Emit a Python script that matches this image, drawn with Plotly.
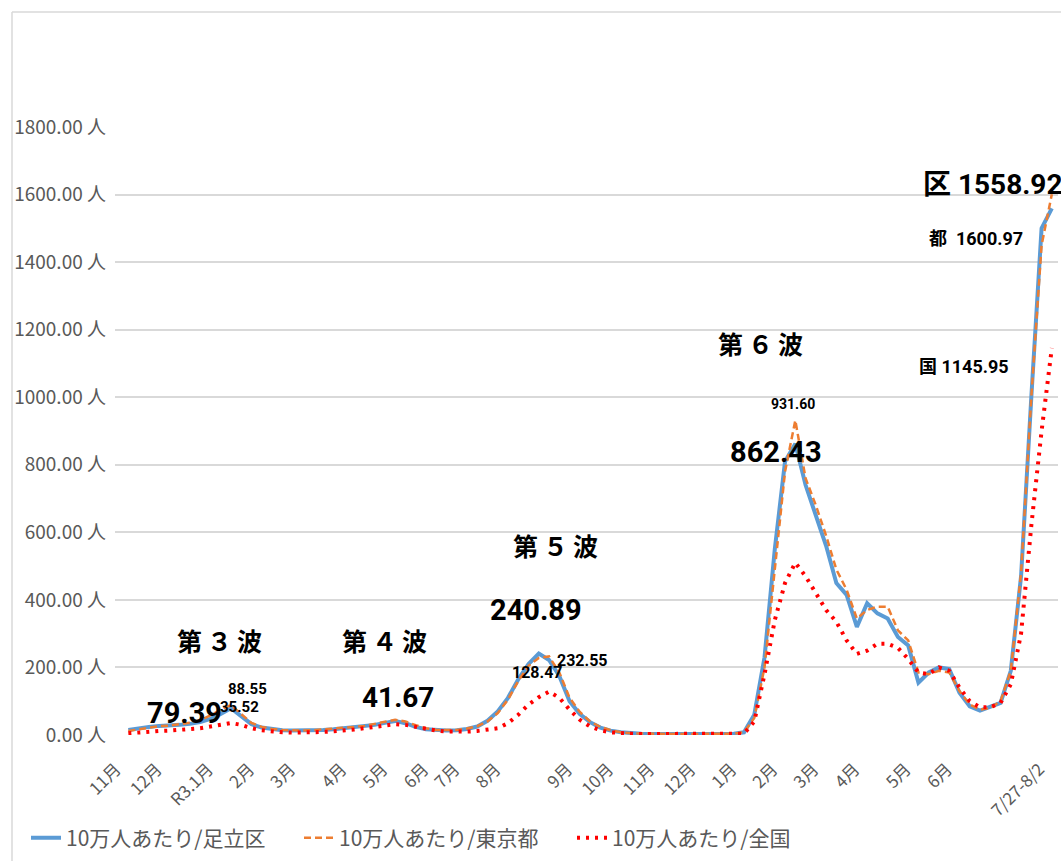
import plotly.graph_objects as go

# Weekly index: week 0 = early Nov 2020 ... week 90 = 2022/7/27-8/2
weeks = list(range(91))

# 10万人あたり新規陽性者数 (足立区)
adachi = [15, 20, 24, 27, 28, 30, 33, 38, 48, 62,
          79.39, 55, 32, 22, 17, 14, 13, 13, 14, 15,
          17, 20, 22, 25, 30, 36, 41.67, 35, 24, 17,
          14, 13, 14, 18, 25, 42, 70, 110, 165, 210,
          240.89, 222, 175, 100, 62, 38, 22, 13, 8, 5,
          4, 3, 3, 3, 3, 3, 3, 3, 3, 4,
          8, 60, 230, 550, 810, 862.43, 740, 650, 560, 450,
          415, 320, 390, 360, 345, 290, 265, 155, 185, 200,
          195, 125, 85, 72, 85, 95, 190, 470, 1000, 1500,
          1558.92]

# 10万人あたり新規陽性者数 (東京都)
tokyo = [12, 17, 22, 26, 28, 31, 36, 44, 58, 75,
         88.55, 62, 36, 24, 18, 15, 13, 13, 14, 16,
         18, 21, 24, 27, 32, 39, 45, 40, 29, 20,
         15, 14, 15, 19, 26, 40, 65, 105, 160, 205,
         228, 232.55, 185, 110, 68, 40, 24, 14, 8, 5,
         4, 3, 3, 3, 3, 3, 3, 3, 3, 4,
         8, 50, 200, 500, 780, 931.60, 760, 680, 590, 490,
         430, 345, 370, 380, 380, 310, 280, 185, 180, 190,
         185, 130, 90, 75, 80, 100, 190, 480, 1000, 1450,
         1600.97]

# 10万人あたり新規陽性者数 (全国)
zenkoku = [5, 8, 10, 12, 13, 15, 17, 20, 25, 30,
           35.52, 30, 20, 14, 10, 8, 7, 7, 8, 9,
           11, 13, 16, 20, 25, 29, 32, 30, 24, 18,
           13, 10, 9, 10, 12, 15, 20, 35, 60, 90,
           112, 128.47, 110, 75, 45, 25, 14, 8, 5, 4,
           3, 3, 3, 3, 3, 3, 3, 3, 3, 3,
           4, 40, 180, 340, 450, 510, 470, 420, 370, 335,
           280, 240, 250, 270, 270, 258, 225, 185, 180, 200,
           190, 140, 100, 82, 82, 95, 150, 300, 620, 900,
           1145.95]

tick_weeks = [0, 4, 9, 13, 17, 22, 26, 30, 33, 37, 44, 48, 52, 56, 60, 64, 68, 72, 77, 81, 90]
tick_labels = ["11月", "12月", "R3.1月", "2月", "3月", "4月", "5月", "6月", "7月", "8月",
               "9月", "10月", "11月", "12月", "1月", "2月", "3月", "4月", "5月", "6月", "7/27-8/2"]

y_ticks = [0, 200, 400, 600, 800, 1000, 1200, 1400, 1600, 1800]

JP = "Noto Sans CJK JP, sans-serif"
NUM = "Roboto, sans-serif"
GRAY = "#595959"
LABEL_SHIFT = -1.2  # month labels sit slightly left of the week they mark

fig = go.Figure()
fig.add_trace(go.Scatter(x=weeks, y=adachi, mode="lines", name="10万人あたり/足立区",
                         line=dict(color="#5b9bd5", width=4)))
fig.add_trace(go.Scatter(x=weeks, y=tokyo, mode="lines", name="10万人あたり/東京都",
                         line=dict(color="#ed7d31", width=2.5, dash="7px,4px")))
fig.add_trace(go.Scatter(x=weeks, y=zenkoku, mode="lines", name="10万人あたり/全国",
                         line=dict(color="#ff0000", width=4, dash="3px,6px")))

SP = "\u2009"
annotations = [
    # wave titles
    dict(x=8.9, y=281, text=f"<b>第{SP}３{SP}波</b>", size=25, font=JP),
    dict(x=25.0, y=281, text=f"<b>第{SP}４{SP}波</b>", size=25, font=JP),
    dict(x=41.6, y=562, text=f"<b>第{SP}５{SP}波</b>", size=25, font=JP),
    dict(x=61.6, y=1160, text=f"<b>第{SP}６{SP}波</b>", size=25, font=JP),
    dict(x=83.8, y=1871, text=f"<b>第{SP}７{SP}波</b>", size=25, font=JP),
    # peak values
    dict(x=5.5, y=65, text="<b>79.39</b>", size=29, font=NUM),
    dict(x=10.8, y=83, text="<b>35.52</b>", size=15, font=NUM),
    dict(x=11.6, y=135, text="<b>88.55</b>", size=15, font=NUM),
    dict(x=26.3, y=112, text="<b>41.67</b>", size=28, font=NUM),
    dict(x=39.7, y=370, text="<b>240.89</b>", size=29, font=NUM),
    dict(x=39.9, y=184, text="<b>128.47</b>", size=16, font=NUM),
    dict(x=44.3, y=222, text="<b>232.55</b>", size=16, font=NUM),
    dict(x=64.8, y=980, text="<b>931.60</b>", size=14, font=NUM),
    dict(x=63.1, y=838, text="<b>862.43</b>", size=29, font=NUM),
]
for a in annotations:
    fig.add_annotation(x=a["x"], y=a["y"], xref="x", yref="y", text=a["text"],
                       showarrow=False, font=dict(family=a["font"], size=a["size"], color="black"))

# latest-week labels for each area
fig.add_annotation(x=84.2, y=1637, xref="x", yref="y", showarrow=False,
                   text="<span style='font-family:Noto Sans CJK JP'><b>区</b></span> <b>1558.92</b>",
                   font=dict(family=NUM, size=28, color="black"))
fig.add_annotation(x=82.6, y=1474, xref="x", yref="y", showarrow=False,
                   text="<span style='font-family:Noto Sans CJK JP'><b>都</b></span>  <b>1600.97</b>",
                   font=dict(family=NUM, size=18, color="black"))
fig.add_annotation(x=81.4, y=1095, xref="x", yref="y", showarrow=False,
                   text="<span style='font-family:Noto Sans CJK JP'><b>国</b></span> <b>1145.95</b>",
                   font=dict(family=NUM, size=18, color="black"))

# plot-area geometry in pixels
L, R, T, B = 115, 3, 127, 126
PW, PH = 1061 - L - R, 861 - T - B


def px(xp):
    return (xp - L) / PW


def py(yp):
    return (861 - B - yp) / PH


# outer chart frame
fig.add_shape(type="line", xref="paper", yref="paper",
              x0=px(12), x1=px(12), y0=py(12), y1=py(861),
              line=dict(color="#d9d9d9", width=1.5))
fig.add_shape(type="line", xref="paper", yref="paper",
              x0=px(12), x1=px(1061), y0=py(12), y1=py(12),
              line=dict(color="#d9d9d9", width=1.5))

fig.update_layout(
    width=1061, height=861,
    margin=dict(l=L, r=R, t=T, b=B),
    plot_bgcolor="white", paper_bgcolor="white",
    showlegend=True,
    legend=dict(orientation="h", x=px(26), xanchor="left", y=py(838), yanchor="middle",
                font=dict(family=JP, size=21, color=GRAY), itemwidth=30,
                entrywidth=228, entrywidthmode="pixels",
                bgcolor="rgba(0,0,0,0)", tracegroupgap=0),
    font=dict(family=JP, color=GRAY),
)
fig.update_xaxes(range=[-1.3, 90.6], tickmode="array",
                 tickvals=[w + LABEL_SHIFT for w in tick_weeks], ticktext=tick_labels,
                 tickangle=-45, tickfont=dict(family=JP, size=17, color=GRAY),
                 showgrid=False, zeroline=False, showline=False, ticks="",
                 ticklabelstandoff=20)
fig.update_yaxes(range=[0, 1800], tickmode="array", tickvals=y_ticks,
                 ticktext=[f"{v:.2f} 人" for v in y_ticks],
                 tickfont=dict(family=JP, size=19, color=GRAY),
                 showgrid=True, gridcolor="#d9d9d9", gridwidth=2,
                 zeroline=False, showline=False, ticks="", ticklabelstandoff=8)

fig.write_html("out.html")
